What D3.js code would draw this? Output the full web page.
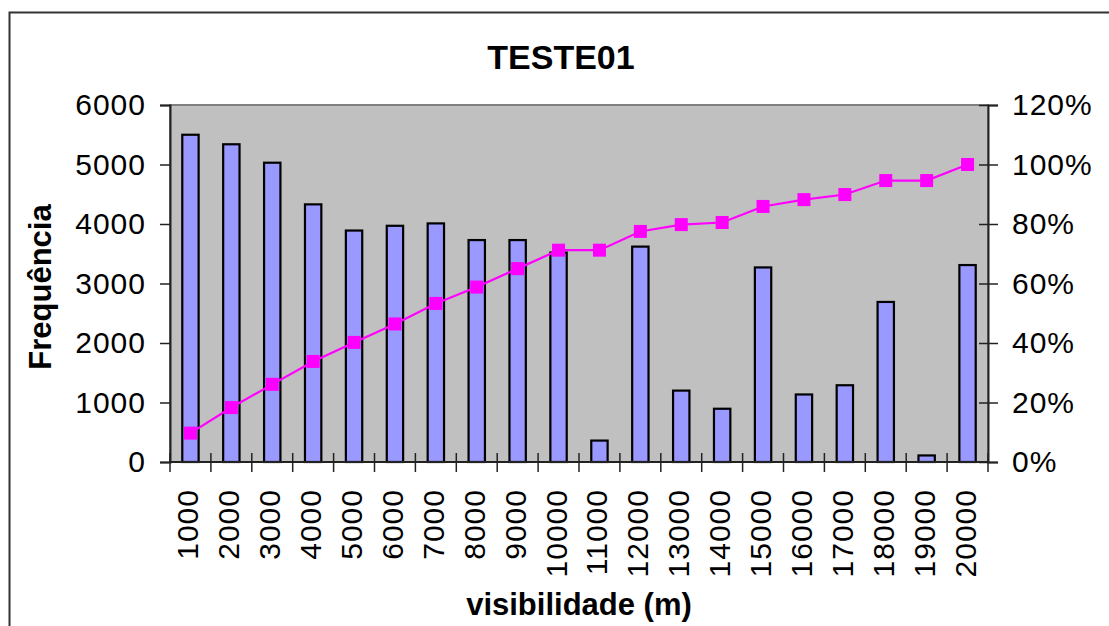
<!DOCTYPE html>
<html>
<head>
<meta charset="utf-8">
<script src="https://cdn.jsdelivr.net/npm/d3@7"></script>
<style>
  html, body { margin: 0; padding: 0; background: #fff; }
  svg { display: block; font-family: "Liberation Sans", Arial, sans-serif; }
</style>
</head>
<body>
<svg id="chart" width="1109" height="626"></svg>
<script>
// Visibility classes (m)
const categories = ["1000","2000","3000","4000","5000","6000","7000","8000","9000","10000",
                    "11000","12000","13000","14000","15000","16000","17000","18000","19000","20000"];
// Frequency per class
const frequency = [5500, 5340, 5030, 4330, 3890, 3970, 4010, 3730, 3730, 3520,
                   360, 3620, 1200, 895, 3270, 1135, 1290, 2690, 110, 3310];
// Cumulative percentage per class
const cumulative = [0.097, 0.183, 0.261, 0.338, 0.402, 0.464, 0.533, 0.588, 0.650, 0.712,
                    0.712, 0.775, 0.798, 0.805, 0.859, 0.882, 0.899, 0.946, 0.946, 1.000];
const leftTicks = [0, 1000, 2000, 3000, 4000, 5000, 6000];
const rightTicks = [0, 0.2, 0.4, 0.6, 0.8, 1.0, 1.2];

const svg = d3.select("#chart");
const plot = { left: 170, right: 988, top: 105, bottom: 462 };

const x = d3.scaleBand().domain(categories).range([plot.left, plot.right]).padding(0);
const y = d3.scaleLinear().domain([0, 6000]).range([plot.bottom, plot.top]);
const y2 = d3.scaleLinear().domain([0, 1.2]).range([plot.bottom, plot.top]);

// Chart frame
svg.append("rect")
  .attr("x", 9.5).attr("y", 12.5).attr("width", 1200).attr("height", 700)
  .attr("fill", "#fff").attr("stroke", "#333").attr("stroke-width", 2);

// Plot area
svg.append("rect")
  .attr("x", plot.left).attr("y", plot.top)
  .attr("width", plot.right - plot.left).attr("height", plot.bottom - plot.top)
  .attr("fill", "#c0c0c0").attr("stroke", "#808080").attr("stroke-width", 2);

// Bars
const bw = x.bandwidth() * 0.4;
svg.append("g").selectAll("rect")
  .data(categories)
  .join("rect")
  .attr("x", (d) => x(d) + x.bandwidth() / 2 - bw / 2)
  .attr("y", (d, i) => y(frequency[i]))
  .attr("width", bw)
  .attr("height", (d, i) => y(0) - y(frequency[i]))
  .attr("fill", "#9999ff")
  .attr("stroke", "#000")
  .attr("stroke-width", 2.2);

// Left axis
const leftAxis = d3.axisLeft(y).tickValues(leftTicks).tickSize(10).tickPadding(14)
  .tickFormat(d3.format("d"));
const gL = svg.append("g").attr("transform", `translate(${plot.left},0)`).call(leftAxis);
gL.select(".domain").attr("stroke", "#222").attr("stroke-width", 2);
gL.selectAll(".tick line").attr("stroke", "#222").attr("stroke-width", 1.5);
gL.selectAll(".tick text")
  .attr("font-size", 30).attr("letter-spacing", 1).attr("fill", "#000")
  .attr("font-family", "Liberation Sans, Arial, sans-serif");

// Right axis (cross ticks)
const rightAxis = d3.axisRight(y2).tickValues(rightTicks).tickSize(10)
  .tickPadding(14).tickFormat(d3.format(".0%"));
const gR = svg.append("g").attr("transform", `translate(${plot.right},0)`).call(rightAxis);
gR.select(".domain").attr("stroke", "#222").attr("stroke-width", 2);
gR.selectAll(".tick line").attr("x1", -9).attr("stroke", "#222").attr("stroke-width", 1.5);
gR.selectAll(".tick text")
  .attr("x", 24)
  .attr("font-size", 30).attr("letter-spacing", 1).attr("fill", "#000")
  .attr("font-family", "Liberation Sans, Arial, sans-serif");

// Bottom axis: ticks between categories, crossing the axis line
const gB = svg.append("g");
gB.append("line")
  .attr("x1", plot.left).attr("x2", plot.right)
  .attr("y1", plot.bottom).attr("y2", plot.bottom)
  .attr("stroke", "#222").attr("stroke-width", 2);
const boundaries = categories.map((d) => x(d)).concat([plot.right]);
gB.selectAll("line.tick")
  .data(boundaries)
  .join("line")
  .attr("class", "tick")
  .attr("x1", (d) => d).attr("x2", (d) => d)
  .attr("y1", plot.bottom - 9).attr("y2", plot.bottom + 10)
  .attr("stroke", "#222").attr("stroke-width", 1.5);
gB.selectAll("text")
  .data(categories)
  .join("text")
  .attr("transform", (d) => `translate(${x(d) + x.bandwidth() / 2 + 8},489) rotate(-90)`)
  .attr("text-anchor", "end")
  .attr("font-size", 30).attr("letter-spacing", 1)
  .text((d) => d);

// Cumulative line
const line = d3.line()
  .x((d, i) => x(categories[i]) + x.bandwidth() / 2)
  .y((d) => y2(d));
svg.append("path")
  .datum(cumulative)
  .attr("d", line)
  .attr("fill", "none")
  .attr("stroke", "#ff00ff")
  .attr("stroke-width", 2.2);
const ms = 13;
svg.append("g").selectAll("rect")
  .data(cumulative)
  .join("rect")
  .attr("x", (d, i) => x(categories[i]) + x.bandwidth() / 2 - ms / 2)
  .attr("y", (d) => y2(d) - ms / 2)
  .attr("width", ms).attr("height", ms)
  .attr("fill", "#ff00ff");

// Titles
svg.append("text")
  .attr("x", 561).attr("y", 69)
  .attr("text-anchor", "middle")
  .attr("font-size", 34).attr("font-weight", "bold")
  .text("TESTE01");

svg.append("text")
  .attr("x", 579).attr("y", 615)
  .attr("text-anchor", "middle")
  .attr("font-size", 31).attr("font-weight", "bold")
  .text("visibilidade (m)");

svg.append("text")
  .attr("transform", "translate(51,287) rotate(-90)")
  .attr("text-anchor", "middle")
  .attr("font-size", 31).attr("font-weight", "bold")
  .text("Frequência");
</script>
</body>
</html>
